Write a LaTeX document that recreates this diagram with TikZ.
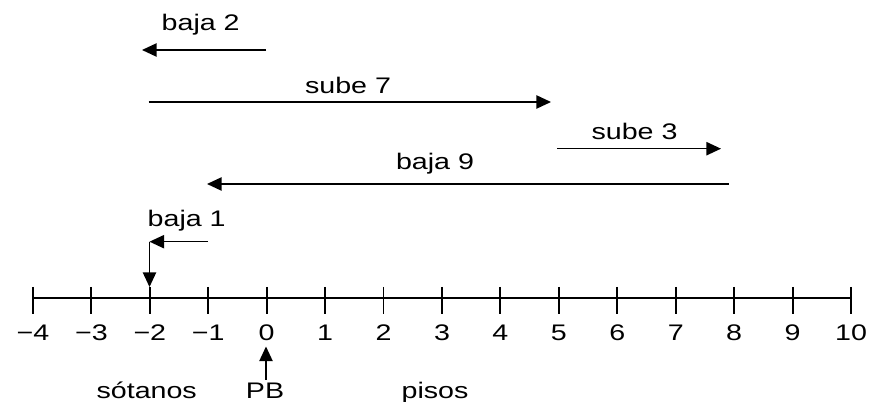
\documentclass[tikz,border=0pt]{standalone}
\usepackage{fontspec}
\setmainfont{Liberation Sans}[FakeStretch=1.27]
\usetikzlibrary{arrows.meta}
\begin{document}
\begin{tikzpicture}[x=0.75pt,y=-0.75pt,
  font=\fontsize{16.9}{20}\selectfont,
  arr/.style={line width=1.1pt,-{Triangle[length=11pt,width=10pt]}},
  axisline/.style={line width=1.4pt},
  tickline/.style={line width=1.4pt},
  lbl/.style={anchor=base,inner sep=0pt}]
\useasboundingbox (0,0) rectangle (878,402);
% axis
\coordinate (axL) at (33,298);
\coordinate (axR) at (851,298);
\draw[axisline] (axL) -- (axR);
\foreach \n in {-4,...,10}{
  \pgfmathsetmacro{\xx}{266.7+58.43*\n}
  \coordinate (ta\n) at (\xx,287);
  \coordinate (tb\n) at (\xx,314);
  \draw[tickline] (ta\n) -- (tb\n);
  \node[lbl] (n\n) at (\xx,341) {\ifnum\n<0 −\number-\n\else\n\fi};
}
% baja 2
\coordinate (b2s) at (266,50);
\coordinate (b2e) at (142,50);
\draw[arr] (b2s) -- (b2e);
\node[lbl] (lb2) at (200.7,31) {baja 2};
% sube 7
\coordinate (s7s) at (148.5,102);
\coordinate (s7e) at (551,102);
\draw[arr] (s7s) -- (s7e);
\node[lbl] (ls7) at (348,94) {sube 7};
% sube 3
\coordinate (s3s) at (557,148.7);
\coordinate (s3e) at (721,148.7);
\draw[arr] (s3s) -- (s3e);
\node[lbl] (ls3) at (634.5,140) {sube 3};
% baja 9
\coordinate (b9s) at (728.5,184);
\coordinate (b9e) at (207,184);
\draw[arr] (b9s) -- (b9e);
\node[lbl] (lb9) at (435,170) {baja 9};
% baja 1
\coordinate (b1s) at (208,241.7);
\coordinate (b1c) at (149.5,241.7);
\coordinate (b1e) at (149.5,287);
\draw[arr] (b1s) -- (b1c);
\draw[arr] (b1c) -- (b1e);
\node[lbl] (lb1) at (186.7,226.7) {baja 1};
% PB
\coordinate (pbs) at (266,380);
\coordinate (pbe) at (266,346.5);
\draw[arr] (pbs) -- (pbe);
\node[lbl] (lpb) at (265,398) {PB};
\node[lbl] (lsot) at (146.7,398) {sótanos};
\node[lbl] (lpis) at (435,398) {pisos};
\end{tikzpicture}
\end{document}
